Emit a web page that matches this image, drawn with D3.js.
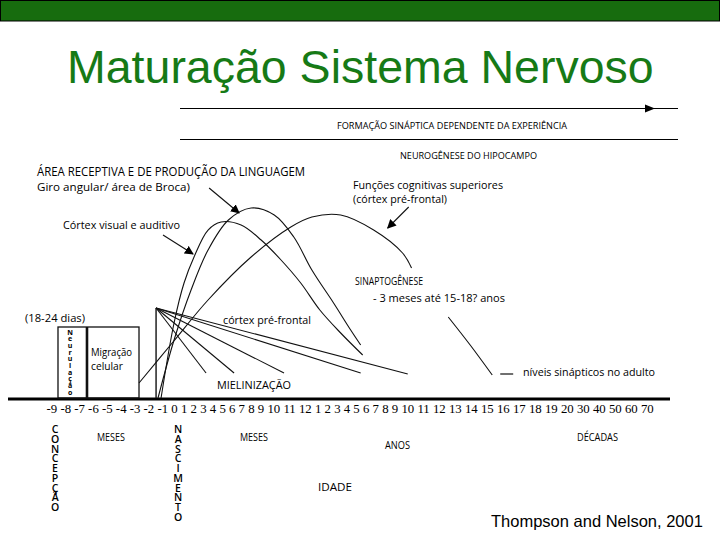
<!DOCTYPE html>
<html><head><meta charset="utf-8">
<script src="https://cdn.jsdelivr.net/npm/d3@7"></script>
<style>body{margin:0;background:#fff} svg{display:block}</style>
</head><body>
<script>
// ---------- DATA ----------
const tickLabels = ["-9","-8","-7","-6","-5","-4","-3","-2","-1",
  "0","1","2","3","4","5","6","7","8","9","10","11","12",
  "1","2","3","4","5","6","7","8","9","10","11","12","13","14","15","16","17","18","19","20",
  "30","40","50","60","70"];
// curves: [tick index position, relative level 0-100]
const curveVisual = [[7.91,0],[9.0,37.5],[10.04,57.5],[11.08,70.5],[12.54,84],[13.9,88],[15.98,86.5],[18.05,79],[19.49,69],[20.74,57.5],[22.23,44],[24.4,32.5],[26.69,21.5]];
const curveBroca = [[7.69,0],[9.0,29],[10.77,54],[12.54,74],[14.66,89],[17.02,95],[19.06,91.5],[20.3,80.5],[21.55,64],[23.66,47.5],[25.44,34],[26.48,26.5]];
const curvePrefrontal = [[6.32,7.5],[8.91,28],[12.54,49],[17.02,70.5],[20.11,85.5],[21.55,90.5],[24.4,91.5],[27.83,84],[30.63,72.5],[31.27,65]];
const curvePrefrontalTail = [[33.59,40.5],[34.96,26.5],[36.34,11.5]];
const myelinOrigin = [7.55,45];
const myelinEnds = [[12.33,12.5],[15.25,12.5],[19.68,12.5],[26.48,12.5],[31.03,12]];
const arrows = [ {from:[12.65,105], to:[15.77,92.5]}, {from:[8.06,81.5], to:[10.98,72]}, {from:[31.09,95.5], to:[29.29,85]} ];
const adultDash = [[36.84,12],[37.65,12]];
const boxSpan = {left:0.48, divider:2.57, right:6.32, top:35.5};

// ---------- SETUP ----------
const W=720,H=540;
const sans = "'Open Sans','Noto Sans',sans-serif";
const svg=d3.select("body").append("svg").attr("width",W).attr("height",H);
svg.append("rect").attr("width",W).attr("height",H).attr("fill","#fff");
svg.append("rect").attr("x",0.5).attr("y",0.5).attr("width",719).attr("height",20.5)
  .attr("fill","#176c0e").attr("stroke","#000").attr("stroke-width",1);
svg.append("text").attr("x",67).attr("y",83)
  .attr("font-family","'Liberation Sans',Arial,sans-serif").attr("font-size",46.5)
  .attr("fill","#167a16").text("Maturação Sistema Nervoso");

// x scale built from tick label layout
const tickFont="'Liberation Serif','Times New Roman',serif", tickSize=12.8;
const meas=svg.append("g").attr("font-family",tickFont).attr("font-size",tickSize);
const widths=tickLabels.map(t=>meas.append("text").text(t).node().getComputedTextLength());
meas.remove();
const gap=tickSize*0.25; let cur=46; const centers=[];
widths.forEach(w=>{centers.push(cur+w/2); cur+=w+gap;});
const x=d3.scaleLinear().domain(tickLabels.map((d,i)=>i)).range(centers);
const y=d3.scaleLinear().domain([0,100]).range([398,198]);

const axis=d3.axisBottom(x).tickValues(d3.range(tickLabels.length))
  .tickFormat(i=>tickLabels[i]).tickSize(0).tickPadding(5);
const ga=svg.append("g").attr("transform","translate(0,399)").call(axis);
ga.select(".domain").remove();
ga.selectAll("text").attr("font-family",tickFont).attr("font-size",tickSize).attr("fill","#000");
svg.append("line").attr("x1",8).attr("x2",670).attr("y1",399).attr("y2",399)
  .attr("stroke","#000").attr("stroke-width",3);

// top timeline lines
svg.append("line").attr("x1",180).attr("x2",678).attr("y1",108.5).attr("y2",108.5).attr("stroke","#000").attr("stroke-width",1.2);
svg.append("path").attr("d","M645,104.5L655,108.5L645,112.5Z").attr("fill","#000");
svg.append("line").attr("x1",180).attr("x2",678).attr("y1",139.5).attr("y2",139.5).attr("stroke","#000").attr("stroke-width",1.2);

// marker
svg.append("defs").append("marker").attr("id","ah").attr("viewBox","0 0 10 10")
  .attr("refX",9).attr("refY",5).attr("markerWidth",9).attr("markerHeight",9)
  .attr("markerUnits","userSpaceOnUse").attr("orient","auto")
  .append("path").attr("d","M0,0L10,5L0,10Z").attr("fill","#000");

const line=d3.line().x(d=>x(d[0])).y(d=>y(d[1])).curve(d3.curveCatmullRom.alpha(0.5));
const straight=d3.line().x(d=>x(d[0])).y(d=>y(d[1]));
const g=svg.append("g").attr("fill","none").attr("stroke","#111").attr("stroke-width",1.1);
[curveVisual,curveBroca,curvePrefrontal,curvePrefrontalTail].forEach(c=>g.append("path").attr("d",line(c)));
myelinEnds.forEach(e=>g.append("path").attr("d",straight([myelinOrigin,e])));
g.append("path").attr("d",straight([[myelinOrigin[0],0],myelinOrigin])).attr("stroke-width",1.4);
g.append("path").attr("d",straight(adultDash)).attr("stroke-width",1.2);
arrows.forEach(a=>g.append("path").attr("d",straight([a.from,a.to])).attr("marker-end","url(#ah)"));

// neurulation / migration box
g.append("rect").attr("x",x(boxSpan.left)).attr("y",y(boxSpan.top))
  .attr("width",x(boxSpan.right)-x(boxSpan.left)).attr("height",y(0)-y(boxSpan.top)).attr("stroke-width",1.3);
g.append("line").attr("x1",x(boxSpan.divider)).attr("x2",x(boxSpan.divider))
  .attr("y1",y(boxSpan.top)).attr("y2",y(0)).attr("stroke-width",2.6);

// texts
const texts=[
 ["ÁREA RECEPTIVA E DE PRODUÇÃO DA LINGUAGEM",37,176,12,268,"start"],
 ["Giro angular/ área de Broca)",37,191,11.5,153,"start"],
 ["Córtex visual e auditivo",63,229,11.5,117,"start"],
 ["Funções cognitivas superiores",353,189,11.5,150,"start"],
 ["(córtex pré-frontal)",353,203,11.5,94,"start"],
 ["SINAPTOGÊNESE",355,285,10.5,68,"start"],
 ["- 3 meses até 15-18?  anos",373,302,11,132,"start"],
 ["córtex pré-frontal",223,324,11.5,88,"start"],
 ["MIELINIZAÇÃO",217,389,11,74,"start"],
 ["níveis sinápticos no adulto",523,376,11,132,"start"],
 ["(18-24 dias)",25,322,11,60,"start"],
 ["Migração",91,355.5,10.5,41,"start"],
 ["celular",91,370,10.5,32,"start"],
 ["FORMAÇÃO SINÁPTICA DEPENDENTE DA EXPERIÊNCIA",337,129,9.5,230,"start"],
 ["NEUROGÊNESE DO HIPOCAMPO",400,159,9.5,137,"start"],
 ["MESES",97,441,10,28,"start"],
 ["MESES",240,441,10,28,"start"],
 ["ANOS",385,449,10,25,"start"],
 ["DÉCADAS",577,441,10,41,"start"],
 ["IDADE",318,491,10,34,"start"]
];
texts.forEach(t=>svg.append("text").attr("x",t[1]).attr("y",t[2]).attr("font-family",sans)
  .attr("font-size",t[3]).attr("textLength",t[4]).attr("lengthAdjust","spacingAndGlyphs")
  .attr("text-anchor",t[5]).attr("fill","#000").text(t[0]));

// vertical stacked words: single text, upright vertical writing, total length fixed
function vertical(str,cx,top,step,size,weight){
  const n=Array.from(str).length;
  svg.append("text").attr("x",cx).attr("y",top)
    .attr("style","writing-mode:vertical-rl;text-orientation:upright")
    .attr("textLength",n*step).attr("lengthAdjust","spacing")
    .attr("font-family",sans).attr("font-size",size).attr("font-weight",weight)
    .attr("fill","#000").text(str);
}
vertical("Neurulação",70,327.5,6.9,7,700);
vertical("CONCEPÇÃO",55,422,10.25,10.5,600);
vertical("NASCIMENTO",178,422,10.2,10.5,600);

svg.append("text").attr("x",491).attr("y",527).attr("font-family","'Liberation Sans',Arial,sans-serif")
  .attr("font-size",16.5).attr("fill","#000").text("Thompson and Nelson, 2001");
</script>
</body></html>
